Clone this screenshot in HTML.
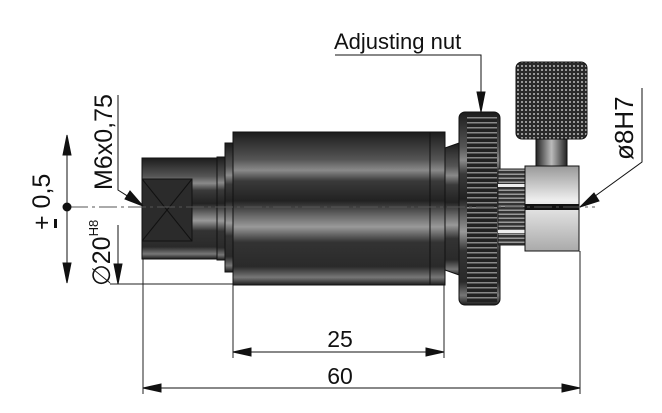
<!DOCTYPE html>
<html><head><meta charset="utf-8"><style>
html,body{margin:0;padding:0;background:#fff;}
svg{display:block;}
text{font-family:"Liberation Sans",Arial,sans-serif;fill:#111;}
</style></head><body>
<svg width="662" height="413" viewBox="0 0 662 413" xmlns="http://www.w3.org/2000/svg">
<defs>
<linearGradient id="cyl" x1="0" y1="0" x2="0" y2="1">
<stop offset="0" stop-color="#1c1c1c"/><stop offset="0.18" stop-color="#555"/><stop offset="0.25" stop-color="#8a8a8a"/><stop offset="0.32" stop-color="#3a3a3a"/><stop offset="0.45" stop-color="#222"/><stop offset="0.55" stop-color="#6a6a6a"/><stop offset="0.62" stop-color="#999"/><stop offset="0.72" stop-color="#333"/><stop offset="0.88" stop-color="#2a2a2a"/><stop offset="0.95" stop-color="#777"/><stop offset="1" stop-color="#1c1c1c"/>
</linearGradient>
<linearGradient id="steel" x1="0" y1="0" x2="0" y2="1">
<stop offset="0" stop-color="#999"/><stop offset="0.4" stop-color="#eee"/><stop offset="1" stop-color="#aaa"/>
</linearGradient>
<linearGradient id="stem" x1="0" y1="0" x2="1" y2="0">
<stop offset="0" stop-color="#222"/><stop offset="0.5" stop-color="#bbb"/><stop offset="1" stop-color="#222"/>
</linearGradient>
<pattern id="knurl" width="4" height="4" patternUnits="userSpaceOnUse">
<rect width="4" height="4" fill="#2a2a2a"/><circle cx="2" cy="2" r="1" fill="#bbb"/>
</pattern>
<pattern id="nutp" width="40" height="5" patternUnits="userSpaceOnUse">
<rect width="40" height="5" fill="#222"/><rect x="0" y="2" width="40" height="1.5" fill="#888"/>
</pattern>
<pattern id="thr" width="30" height="4" patternUnits="userSpaceOnUse">
<rect width="30" height="4" fill="#333"/><rect y="1.5" width="30" height="1.5" fill="#999"/>
</pattern>
</defs>
<g stroke="#222" stroke-width="1" fill="none">
<line x1="143" y1="258" x2="143" y2="394"/>
<line x1="233" y1="285" x2="233" y2="358"/>
<line x1="444" y1="285" x2="444" y2="358"/>
<line x1="580" y1="251" x2="580" y2="394"/>
<line x1="110" y1="284" x2="233" y2="284"/>
</g>
<rect x="142" y="158" width="76" height="101" fill="url(#cyl)" stroke="#111"/>
<rect x="142" y="179" width="50" height="62" fill="#2b2b2b" stroke="#111"/>
<line x1="142" y1="179" x2="192" y2="241" stroke="#111"/><line x1="192" y1="179" x2="142" y2="241" stroke="#111"/>
<rect x="217" y="157" width="8" height="103" fill="url(#cyl)" stroke="#111"/>
<rect x="225" y="143" width="9" height="129" fill="url(#cyl)" stroke="#111"/>
<rect x="233" y="132" width="212" height="153" fill="url(#cyl)" stroke="#111"/>
<line x1="430" y1="132" x2="430" y2="285" stroke="#111"/>
<polygon points="445,148 462,142 462,276 445,270" fill="url(#cyl)" stroke="#111"/>
<rect x="459" y="112" width="41" height="193" rx="6" fill="url(#cyl)" stroke="#111"/>
<rect x="467" y="115" width="30" height="187" fill="url(#nutp)"/>
<rect x="498" y="169" width="27" height="76" fill="url(#thr)" stroke="#222"/>
<rect x="498" y="184" width="27" height="3" fill="#eee"/>
<rect x="498" y="230" width="27" height="3" fill="#eee"/>
<rect x="536" y="138" width="31" height="30" fill="url(#stem)" stroke="#111"/>
<rect x="516" y="62" width="71" height="77" rx="6" fill="url(#knurl)" stroke="#111"/>
<rect x="525" y="166" width="54" height="85" fill="url(#steel)" stroke="#111"/>
<rect x="525" y="204" width="54" height="6" fill="#111"/>
<line x1="70" y1="207" x2="595" y2="207" stroke="#555" stroke-width="1" stroke-dasharray="18,4,3,4"/>
<g stroke="#111" stroke-width="1" fill="#111">
<line x1="233" y1="352" x2="444" y2="352"/>
<polygon points="233,352 251,348 251,356"/><polygon points="444,352 426,348 426,356"/>
<line x1="143" y1="388" x2="580" y2="388"/>
<polygon points="143,388 161,384 161,392"/><polygon points="580,388 562,384 562,392"/>
<line x1="67" y1="135" x2="67" y2="283"/>
<polygon points="67,135 63,155 71,155"/><polygon points="67,283 63,263 71,263"/>
<circle cx="67" cy="207" r="4"/>
<line x1="118" y1="225" x2="118" y2="284"/>
<polygon points="118,284 114,264 122,264"/>
<polyline points="118,95 118,190 143,206" fill="none"/>
<polygon points="143,206 125,199 130,191"/>
<polyline points="335,55 481,55 481,112" fill="none"/>
<polygon points="481,112 477,92 485,92"/>
<polyline points="642,88 642,162 580,207" fill="none"/>
<polygon points="580,207 594,193 599,201"/>
</g>
<text x="340" y="347" font-size="23" text-anchor="middle">25</text>
<text x="340" y="384" font-size="23" text-anchor="middle">60</text>
<text x="334" y="49" font-size="22">Adjusting nut</text>
<text transform="translate(50,230) rotate(-90)" font-size="25">+ 0,5</text>
<rect x="54" y="219" width="3" height="9" fill="#111"/>
<text transform="translate(112,190) rotate(-90)" font-size="25">M6x0,75</text>
<text transform="translate(110,286) rotate(-90)" font-size="25">∅20<tspan font-size="13" dy="-12">H8</tspan></text>
<text transform="translate(633,160) rotate(-90)" font-size="26">ø8H7</text>
</svg>
</body></html>
